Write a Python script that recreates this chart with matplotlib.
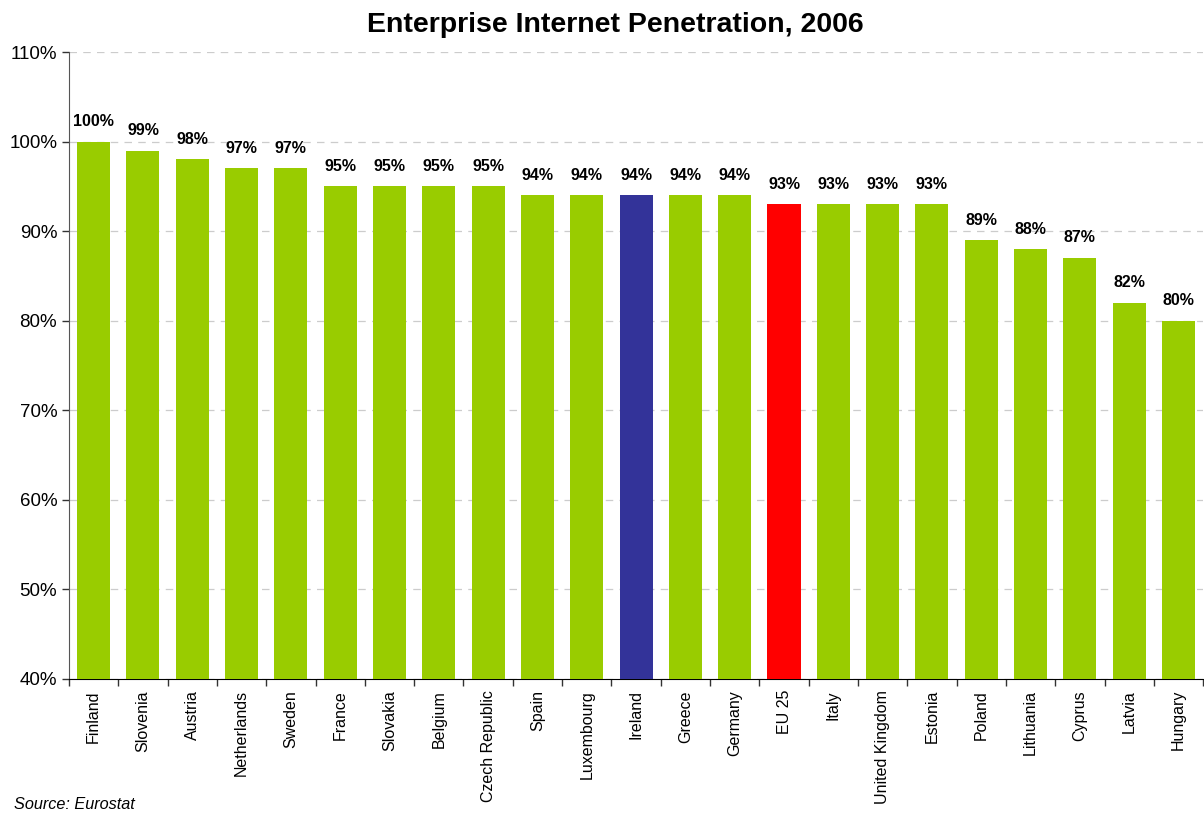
import matplotlib
matplotlib.use("Agg")
import matplotlib.pyplot as plt
import numpy as np
from matplotlib.ticker import FuncFormatter, FixedLocator

plt.rcParams['font.family'] = ['Liberation Sans', 'DejaVu Sans']

countries = ["Finland", "Slovenia", "Austria", "Netherlands", "Sweden", "France",
             "Slovakia", "Belgium", "Czech Republic", "Spain", "Luxembourg", "Ireland",
             "Greece", "Germany", "EU 25", "Italy", "United Kingdom", "Estonia",
             "Poland", "Lithuania", "Cyprus", "Latvia", "Hungary"]
values = [100, 99, 98, 97, 97, 95, 95, 95, 95, 94, 94, 94, 94, 94, 93, 93, 93, 93,
          89, 88, 87, 82, 80]

colors = []
for c in countries:
    if c == "Ireland":
        colors.append("#333399")
    elif c == "EU 25":
        colors.append("#FF0000")
    else:
        colors.append("#99CC00")

fig = plt.figure(figsize=(12.04, 8.19), dpi=100)
ax = fig.add_axes([0.0573, 0.171, 0.942, 0.7655])

x = np.arange(len(countries))
ax.bar(x, values, width=0.67, color=colors, zorder=3)

for xi, v in zip(x, values):
    ax.text(xi, v + 1.4, "%d%%" % v, ha="center", va="bottom",
            fontsize=11.5, fontweight="bold")

ax.set_xlim(-0.5, len(countries) - 0.5)
ax.set_ylim(40, 110)
ax.set_yticks(np.arange(40, 111, 10))
ax.yaxis.set_major_formatter(FuncFormatter(lambda v, p: "%d%%" % v))
ax.grid(axis="y", color="#cccccc", linestyle=(0, (6, 5)), linewidth=0.9, zorder=0)

ax.set_xticks(x)
ax.set_xticklabels(countries, rotation=90, fontsize=11.5)
ax.xaxis.set_minor_locator(FixedLocator(np.arange(-0.5, len(countries), 1)))
ax.tick_params(axis="x", which="major", length=0, pad=8)
ax.tick_params(axis="x", which="minor", length=5, width=1, color="#333333")
ax.tick_params(axis="y", labelsize=13.5, length=5, width=1, color="#333333")

for s in ["top", "right"]:
    ax.spines[s].set_visible(False)
ax.spines["left"].set_color("#555555")
ax.spines["bottom"].set_color("black")

fig.suptitle("Enterprise Internet Penetration, 2006", fontsize=20.5, fontweight="bold",
             x=0.511, y=0.985)
fig.text(0.012, 0.012, "Source: Eurostat", fontsize=11.7, style="italic")

fig.savefig("out.png", dpi=100)
